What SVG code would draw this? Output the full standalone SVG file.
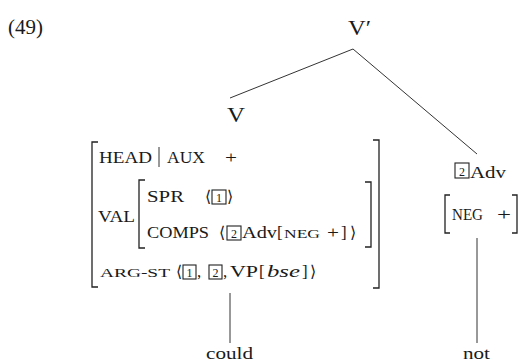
<svg xmlns="http://www.w3.org/2000/svg" width="519" height="362" viewBox="0 0 519 362">
<style>
text{font-family:"Liberation Serif","DejaVu Serif",serif;fill:#1a1a1a;}
.t{font-size:17px;}
.big{font-size:20px;}
.sc{font-size:13.5px;}
.ab{font-size:16px;font-family:"DejaVu Serif","Liberation Serif",serif;}
.num{font-size:12px;text-anchor:middle;}
.br{fill:none;stroke:#222;stroke-width:1.3;}
.box{fill:none;stroke:#222;stroke-width:1.1;}
.edge{stroke:#333;stroke-width:1;fill:none;}
</style>
<rect width="519" height="362" fill="#fff"/>
<g id="label-49"><text class="big" x="8" y="34" textLength="35" lengthAdjust="spacingAndGlyphs">(49)</text></g>
<g id="connectors">
<line class="edge" x1="353" y1="49" x2="230" y2="98"/>
<line class="edge" x1="353" y1="49" x2="477" y2="154"/>
<line class="edge" x1="230" y1="293" x2="230" y2="343"/>
<line class="edge" x1="477" y1="238" x2="477" y2="343"/>
</g>
<g id="node-vbar"><text class="big" x="348" y="35" textLength="23" lengthAdjust="spacingAndGlyphs">V′</text></g>
<g id="node-v">
<text class="big" x="227" y="122" textLength="18" lengthAdjust="spacingAndGlyphs">V</text>
<path class="br" d="M98,142H92V287H98"/>
<path class="br" d="M373,140H379V288H373"/>
<text class="t" x="99" y="163" textLength="53" lengthAdjust="spacingAndGlyphs">HEAD</text>
<line class="edge" x1="159" y1="147" x2="159" y2="167"/>
<text class="t" x="167" y="163" textLength="38" lengthAdjust="spacingAndGlyphs">AUX</text>
<text class="t" x="225" y="163" textLength="12" lengthAdjust="spacingAndGlyphs">+</text>
<text class="t" x="98" y="222" textLength="37" lengthAdjust="spacingAndGlyphs">VAL</text>
<path class="br" d="M145,180H139V248H145"/>
<path class="br" d="M365,182H371V247H365"/>
<text class="t" x="147" y="202" textLength="37" lengthAdjust="spacingAndGlyphs">SPR</text>
<text class="ab" x="205" y="202">⟨</text>
<rect class="box" x="212" y="190" width="14" height="14"/>
<text class="num" x="219" y="202">1</text>
<text class="ab" x="227" y="202">⟩</text>
<text class="t" x="147" y="238" textLength="62" lengthAdjust="spacingAndGlyphs">COMPS</text>
<text class="ab" x="219" y="238">⟨</text>
<rect class="box" x="227" y="226" width="14" height="14"/>
<text class="num" x="234" y="238">2</text>
<text class="t" x="242" y="238" textLength="35" lengthAdjust="spacingAndGlyphs">Adv</text>
<text class="t" x="277" y="238">[</text>
<text class="sc" x="284" y="238" textLength="36" lengthAdjust="spacingAndGlyphs">NEG</text>
<text class="t" x="327" y="238" textLength="12" lengthAdjust="spacingAndGlyphs">+</text>
<text class="t" x="341" y="238">]</text>
<text class="ab" x="350" y="238">⟩</text>
<text class="sc" x="100" y="277" textLength="70" lengthAdjust="spacingAndGlyphs">ARG-ST</text>
<text class="ab" x="176" y="277">⟨</text>
<rect class="box" x="183" y="265" width="13" height="14"/>
<text class="num" x="189.5" y="277">1</text>
<text class="t" x="197" y="277">,</text>
<rect class="box" x="209" y="265" width="13" height="14"/>
<text class="num" x="215.5" y="277">2</text>
<text class="t" x="223" y="277">,</text>
<text class="t" x="230" y="277" textLength="28" lengthAdjust="spacingAndGlyphs">VP</text>
<text class="t" x="259" y="277">[</text>
<text class="t" x="267" y="277" font-style="italic" textLength="33" lengthAdjust="spacingAndGlyphs">bse</text>
<text class="t" x="302" y="277">]</text>
<text class="ab" x="310" y="277">⟩</text>
</g>
<g id="node-adv">
<rect class="box" x="455" y="163" width="14" height="15"/>
<text class="num" x="462" y="176">2</text>
<text class="t" x="470" y="178" textLength="36" lengthAdjust="spacingAndGlyphs">Adv</text>
<path class="br" d="M450,195H445V233H450"/>
<path class="br" d="M512,195H517V233H512"/>
<text class="t" x="452" y="220" textLength="31" lengthAdjust="spacingAndGlyphs">NEG</text>
<text class="t" x="497" y="220" textLength="14" lengthAdjust="spacingAndGlyphs">+</text>
</g>
<g id="node-could"><text class="t" x="206" y="359" textLength="47" lengthAdjust="spacingAndGlyphs">could</text></g>
<g id="node-not"><text class="t" x="463" y="359" textLength="27" lengthAdjust="spacingAndGlyphs">not</text></g>
</svg>
